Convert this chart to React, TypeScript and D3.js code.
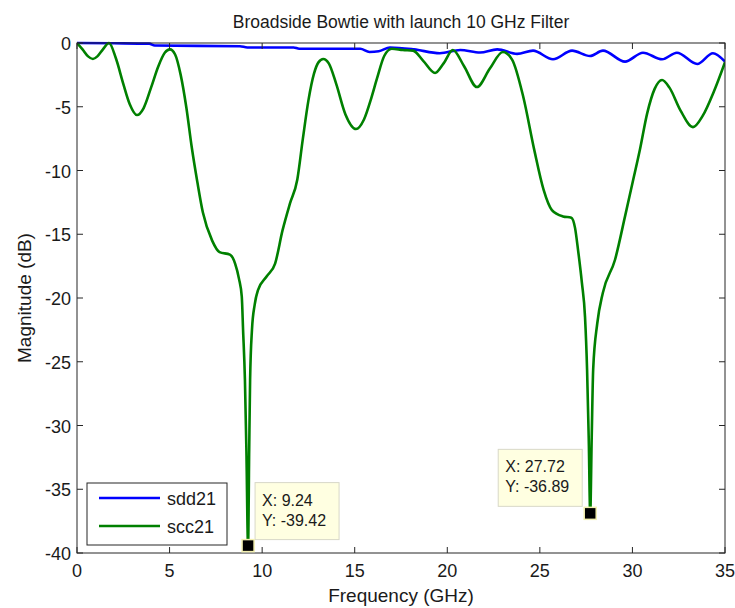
import React from "react";
import * as d3 from "d3";

const freqScc: number[] = [0, 0.3, 0.6, 0.86, 1.1, 1.4, 1.73, 2.1, 2.5, 2.85, 3.24, 3.6, 4.0, 4.4, 4.75, 5.02, 5.3, 5.6, 5.9, 6.2, 6.5, 6.8, 7.3, 7.7, 8.26, 8.54, 8.75, 8.9, 8.97, 9.07, 9.15, 9.24, 9.3, 9.35, 9.45, 9.6, 9.77, 10.25, 10.7, 11.1, 11.5, 11.9, 12.2, 12.5, 12.8, 13.05, 13.3, 13.6, 14.0, 14.5, 15.07, 15.5, 15.9, 16.2, 16.6, 17.0, 17.6, 18.15, 18.7, 19.34, 19.8, 20.3, 20.9, 21.6, 22.3, 23.0, 23.5, 24.1, 24.7, 25.2, 25.65, 26.25, 26.7, 26.9, 27.06, 27.27, 27.44, 27.55, 27.64, 27.72, 27.8, 27.88, 28.1, 28.4, 29.06, 29.6, 30.0, 30.4, 30.8, 31.2, 31.6, 32.0, 32.6, 33.27, 33.8, 34.4, 35.0];
const scc21: number[] = [0, -0.5, -1.05, -1.25, -1.05, -0.5, 0, -1.2, -3.2, -4.8, -5.65, -5.1, -3.5, -1.8, -0.75, -0.5, -0.9, -2.5, -5.0, -8.2, -10.9, -13.3, -15.5, -16.4, -16.6, -17.3, -18.5, -19.9, -22.5, -26.4, -32, -39.42, -32, -26.4, -22.5, -20.5, -19.4, -18.3, -17.3, -14.7, -12.6, -10.7, -7.5, -4.5, -2.4, -1.5, -1.25, -1.6, -3.2, -5.6, -6.75, -6.0, -4.3, -2.8, -1.0, -0.45, -0.55, -0.6, -1.4, -2.35, -1.6, -0.55, -1.8, -3.45, -2.0, -0.7, -1.3, -4.2, -8.4, -11.5, -13.1, -13.6, -13.7, -14.5, -16.2, -18.8, -21.5, -25.6, -31, -36.89, -31, -25.6, -22, -19.6, -17, -13.6, -11, -8.4, -5.5, -3.6, -2.9, -3.5, -5.3, -6.6, -5.7, -3.8, -1.5];

const freqSdd: number[] = [0, 2, 3.9, 4.2, 8.8, 9.2, 11.7, 12, 15.3, 15.8, 16.3, 16.9, 18.2, 19.6, 20.7, 21.77, 22.7, 23.77, 24.63, 25.71, 26.74, 27.71, 28.41, 29.6, 30.57, 31.6, 32.4, 33.5, 34.35, 35];
const sdd21: number[] = [0, -0.02, -0.05, -0.2, -0.25, -0.35, -0.35, -0.45, -0.45, -0.7, -0.65, -0.35, -0.5, -0.8, -0.55, -0.75, -0.5, -0.85, -0.6, -1.28, -0.6, -1.02, -0.6, -1.46, -0.76, -1.28, -0.76, -1.65, -0.8, -1.46];

const xTicks: number[] = [0, 5, 10, 15, 20, 25, 30, 35];
const yTicks: number[] = [0, -5, -10, -15, -20, -25, -30, -35, -40];
const seriesNames: string[] = ["sdd21", "scc21"];
const seriesColors: string[] = ["#0000ff", "#008000"];
const datatips: { x: number; y: number }[] = [
  { x: 9.24, y: -39.42 },
  { x: 27.72, y: -36.89 },
];

export default function App() {
  const W = 735, H = 608;
  const L = 77, R = 725, T = 43, B = 553;
  const x = d3.scaleLinear().domain([0, 35]).range([L, R]);
  const y = d3.scaleLinear().domain([-40, 0]).range([B, T]);
  const line = d3
    .line<[number, number]>()
    .x((d) => x(d[0]))
    .y((d) => y(d[1]))
    .curve(d3.curveMonotoneX);
  const sddPath = line(freqSdd.map((f, i) => [f, sdd21[i]]) as [number, number][]) || "";
  const sccPath = line(freqScc.map((f, i) => [f, scc21[i]]) as [number, number][]) || "";
  const font = "Liberation Sans, Arial, Helvetica, sans-serif";
  const tc = "#1a1a1a";
  const tick = 6;

  return (
    <svg width={W} height={H} style={{ position: "absolute", left: 0, top: 0, background: "#fff" }} fontFamily={font}>
      <rect x={0} y={0} width={W} height={H} fill="#fff" />
      <defs>
        <clipPath id="plotclip">
          <rect x={L} y={T - 2} width={R - L} height={B - T + 4} />
        </clipPath>
      </defs>
      <text x={(L + R) / 2} y={28} textAnchor="middle" fontSize={17.5} fill={tc}>
        Broadside Bowtie with launch 10 GHz Filter
      </text>
      <g clipPath="url(#plotclip)">
        <path d={sddPath} fill="none" stroke={seriesColors[0]} strokeWidth={2.6} strokeLinejoin="round" />
        <path d={sccPath} fill="none" stroke={seriesColors[1]} strokeWidth={2.6} strokeLinejoin="round" />
      </g>
      <rect x={L} y={T} width={R - L} height={B - T} fill="none" stroke="#262626" strokeWidth={1} />
      {xTicks.map((t) => (
        <g key={"xt" + t}>
          <line x1={x(t)} x2={x(t)} y1={B} y2={B - tick} stroke="#262626" />
          <line x1={x(t)} x2={x(t)} y1={T} y2={T + tick} stroke="#262626" />
          <text x={x(t)} y={B + 24} textAnchor="middle" fontSize={18} fill={tc}>
            {t}
          </text>
        </g>
      ))}
      {yTicks.map((t) => (
        <g key={"yt" + t}>
          <line x1={L} x2={L + tick} y1={y(t)} y2={y(t)} stroke="#262626" />
          <line x1={R} x2={R - tick} y1={y(t)} y2={y(t)} stroke="#262626" />
          <text x={L - 6} y={y(t) + 7} textAnchor="end" fontSize={18} fill={tc}>
            {t}
          </text>
        </g>
      ))}
      <text x={(L + R) / 2} y={602} textAnchor="middle" fontSize={19} fill={tc}>
        Frequency (GHz)
      </text>
      <text transform={`translate(31, ${(T + B) / 2}) rotate(-90)`} textAnchor="middle" fontSize={19} fill={tc}>
        Magnitude (dB)
      </text>
      {/* legend */}
      <rect x={87} y={483} width={140} height={62} fill="#fff" stroke="#262626" strokeWidth={1} />
      {seriesNames.map((n, i) => (
        <g key={n}>
          <line x1={99} x2={160} y1={498 + i * 28} y2={498 + i * 28} stroke={seriesColors[i]} strokeWidth={2.6} />
          <text x={167} y={505 + i * 28} fontSize={18} fill={tc}>
            {n}
          </text>
        </g>
      ))}
      {/* datatips */}
      {datatips.map((d, i) => {
        const px = x(d.x), py = y(d.y);
        const bx = i === 0 ? px + 7 : px - 92;
        const by = i === 0 ? py - 63 : py - 64;
        return (
          <g key={"dt" + i}>
            <rect x={bx} y={by} width={84} height={57} fill="#ffffe1" stroke="#d8d8c8" strokeWidth={1} />
            <text x={bx + 7} y={by + 23} fontSize={16} fill={tc}>
              {"X: " + d.x}
            </text>
            <text x={bx + 7} y={by + 43} fontSize={16} fill={tc}>
              {"Y: " + d.y}
            </text>
            <rect x={px - 6} y={py - 6} width={12} height={12} fill="#000" stroke="#f3f0b0" strokeWidth={1.5} />
          </g>
        );
      })}
    </svg>
  );
}
